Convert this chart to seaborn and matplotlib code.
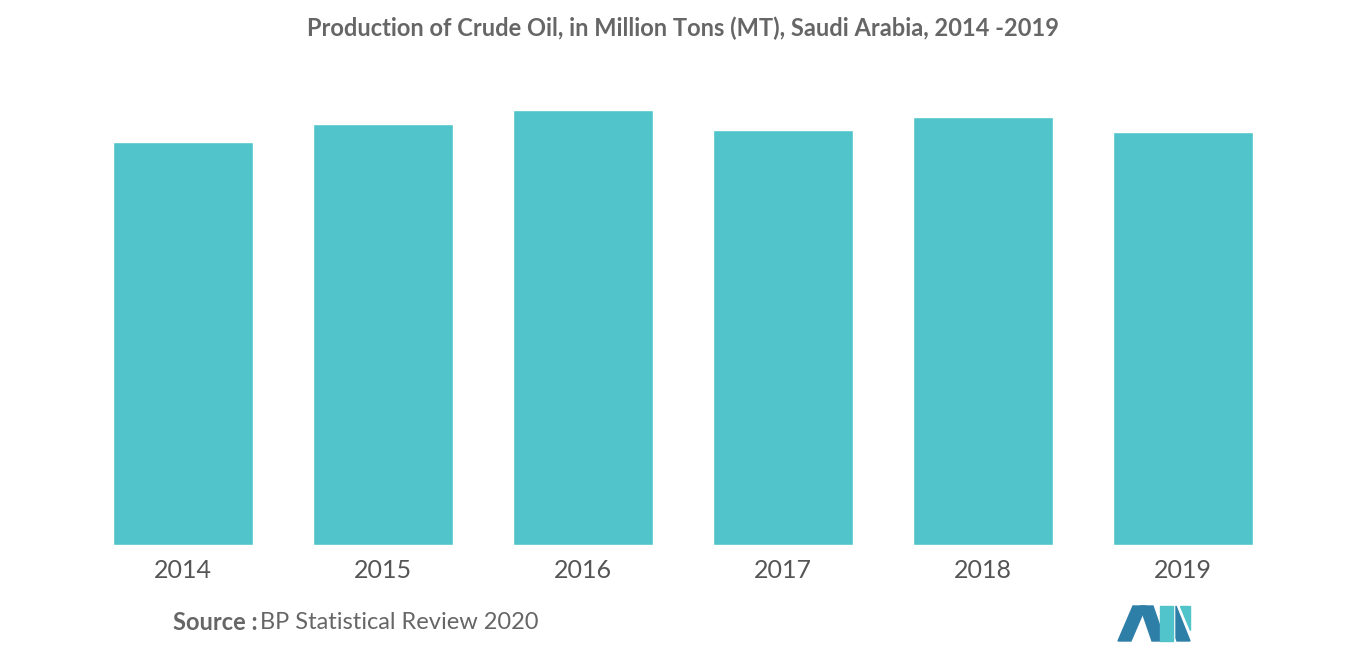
import matplotlib
matplotlib.use("Agg")
import matplotlib.pyplot as plt
import seaborn as sns
import pandas as pd
from matplotlib.patches import Polygon

# Data (BP Statistical Review 2020, million tons)
years = ["2014", "2015", "2016", "2017", "2018", "2019"]
production = [543.8, 568.0, 586.7, 559.3, 576.8, 556.6]

df = pd.DataFrame({"year": years, "production": production})

sns.set_theme(style="white")
plt.rcParams['font.family'] = ['Lato', 'DejaVu Sans']

fig = plt.figure(figsize=(13.66, 6.55), dpi=100)
ax = fig.add_axes([0.0608, 0.168, 0.8785, 0.710])

sns.barplot(data=df, x="year", y="production", color="#50C4CA", width=0.7,
            saturation=1, ax=ax)
ax.set_ylim(0, 627.5)
ax.set_xlim(-0.5, 5.5)
ax.set_xlabel("")
ax.set_ylabel("")
ax.set_yticks([])
ax.tick_params(axis="x", length=0, labelsize=18, labelcolor="#555555", pad=10)
for s in ax.spines.values():
    s.set_visible(False)

fig.text(0.5, 0.957, "Production of Crude Oil, in Million Tons (MT), Saudi Arabia, 2014 -2019",
         ha="center", va="center", fontsize=17, color="#666666", fontweight="bold")
fig.text(0.127, 0.049, "Source :", ha="left", va="center", fontsize=17,
         color="#666666", fontweight="bold")
fig.text(0.19, 0.049, "BP Statistical Review 2020", ha="left", va="center",
         fontsize=17, color="#666666")

# simple logo
W, H = 1366, 655
def px(pts):
    return [(x / W, 1 - y / H) for x, y in pts]
fig.patches.append(Polygon(px([(1118, 641), (1133, 606), (1146, 606), (1131, 641)]),
                           closed=True, transform=fig.transFigure, color="#2E7FA8"))
fig.patches.append(Polygon(px([(1140, 606), (1153, 606), (1165, 641), (1152, 641)]),
                           closed=True, transform=fig.transFigure, color="#2E7FA8"))
fig.patches.append(Polygon(px([(1160, 606), (1173, 606), (1173, 641), (1160, 641)]),
                           closed=True, transform=fig.transFigure, color="#50C4CA"))
fig.patches.append(Polygon(px([(1176, 606), (1190, 641), (1177, 641), (1176, 638)]),
                           closed=True, transform=fig.transFigure, color="#2E7FA8"))
fig.patches.append(Polygon(px([(1180, 606), (1190, 606), (1190, 630)]),
                           closed=True, transform=fig.transFigure, color="#50C4CA"))

fig.savefig("out.png", dpi=100)
